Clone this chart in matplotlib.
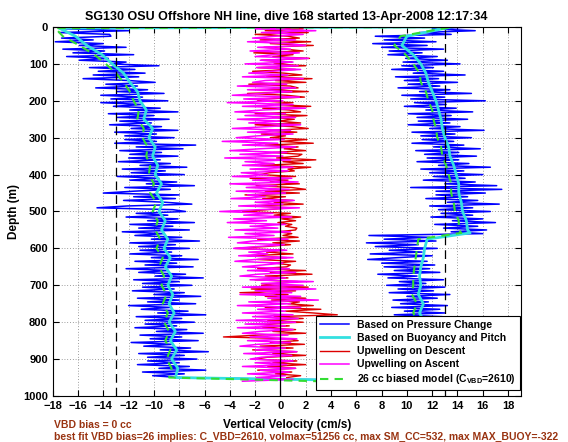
import numpy as np
import matplotlib
matplotlib.use("Agg")
import matplotlib.pyplot as plt

plt.rcParams['font.family'] = ['Liberation Sans', 'DejaVu Sans']
plt.rcParams['font.weight'] = 'bold'
plt.rcParams['mathtext.fontset'] = 'custom'
plt.rcParams['mathtext.rm'] = 'Liberation Sans:bold'
plt.rcParams['mathtext.it'] = 'Liberation Sans:bold'
plt.rcParams['mathtext.bf'] = 'Liberation Sans:bold'

# vertical velocity from pressure change (cm/s), every 5 m from the surface
w_press_desc = [-6.0, -17.0, -12.0, -17.5, -13.5,
                -13.4, -17.3, -14.8, -17.8, -14.0,
                -15.9, -12.2, -17.2, -13.9, -16.4,
                -11.6, -16.9, -13.6, -15.9, -12.2,
                -13.4, -9.6, -15.1, -11.5, -14.4, -10.7, -14.8, -11.2, -15.6, -12.0,
                -9.9, -13.8, -11.3, -14.6, -10.5, -12.9, -9.2, -14.2, -10.9, -13.4,
                -8.9, -14.2, -10.9, -13.2, -9.5, -11.9, -8.1, -13.6, -10.0, -12.9,
                -8.8, -12.7, -10.2, -13.5, -9.4, -11.8, -8.1, -13.1, -9.8, -12.3,
                -8.4, -12.3, -9.8, -13.1, -6.7, -11.4, -7.7, -12.7, -9.4, -11.9,
                -8.1, -12.0, -9.5, -12.8, -8.7, -11.1, -7.4, -12.5, -9.1, -11.8,
                -7.6, -12.9, -9.6, -11.9, -8.2, -10.6, -6.8, -12.3, -8.7, -11.6,
                -14.0, -8.0, -11.6, -8.3, -12.4, -9.1, -7.0, -12.1, -14.5, -8.5,
                -7.5, -11.4, -8.9, -12.2, -8.1, -10.5, -6.8, -11.9, -8.5, -11.2,
                -7.2, -12.5, -9.2, -11.5, -7.8, -10.2, -6.4, -11.9, -8.3, -11.2,
                -7.2, -11.1, -8.6, -11.9, -7.8, -10.2, -6.5, -11.5, -8.2, -10.7,
                -6.9, -12.2, -8.9, -11.2, -7.5, -9.9, -6.1, -11.6, -8.0, -10.9,
                -7.0, -10.9, -8.4, -11.7, -7.6, -10.0, -6.3, -11.3, -8.0, -10.5,
                -6.7, -12.0, -8.7, -11.0, -7.3, -9.7, -5.9, -11.4, -7.8, -10.7,
                -6.8, -10.7, -8.2, -11.5, -7.4, -9.8, -6.1, -11.1, -7.8, -10.3,
                -6.5, -11.8, -8.5, -10.8, -7.1, -9.5, -5.7, -11.2, -7.6, -10.5,
                -6.6, -10.5, -8.0, -11.3, -7.2, -9.6, -5.9, -10.9, -7.6, -10.1,
                -8.0]
w_press_asc = [15.0, 12.0, 15.4, 11.0, 13.5,
               7.5, 11.4, 8.2, 12.3, 7.3,
               11.6, 8.0, 12.9, 8.6, 11.2,
               8.5, 12.4, 9.9, 13.2, 9.7,
               14.2, 9.6, 12.1, 8.8, 12.9, 10.5, 14.6, 9.1, 12.5, 9.8,
               14.0, 10.1, 12.6, 9.3, 13.4, 11.0, 15.1, 9.6, 13.0, 10.3,
               16.2, 10.6, 13.1, 9.8, 13.9, 11.5, 15.2, 10.1, 13.5, 10.8,
               14.8, 10.9, 13.4, 10.1, 14.2, 11.8, 16.1, 10.4, 13.8, 11.1,
               15.1, 11.2, 13.7, 10.4, 14.5, 12.1, 15.8, 10.7, 14.1, 11.4,
               15.5, 11.6, 14.1, 10.8, 14.9, 12.5, 16.6, 11.1, 14.5, 11.8,
               16.0, 12.1, 14.6, 11.3, 15.4, 13.0, 17.1, 10.3, 17.5, 12.3,
               16.2, 12.3, 14.8, 11.5, 15.6, 13.2, 17.3, 11.8, 15.2, 12.5,
               16.6, 12.7, 15.2, 11.9, 16.0, 13.6, 17.0, 12.2, 15.6, 12.9,
               16.3, 13.5, 16.0,
               7.0, 11.8, 8.2, 12.3, 6.8, 10.9, 7.5,
               12.4, 8.6, 11.2, 7.1, 12.0, 9.3, 6.9, 11.6, 8.0, 12.2,
               8.2, 11.8, 9.0, 12.6, 7.7, 10.8, 8.5, 12.9, 9.4, 11.5,
               8.4, 13.0, 9.3, 12.1, 8.6, 13.4, 10.0, 12.4, 8.9, 11.7,
               9.5, 13.2, 8.8, 12.6, 9.8, 13.0,
               9.0, 12.8, 9.6, 12.2, 9.2, 13.0, 9.8, 12.4, 9.4, 12.9,
               9.9, 12.3, 9.3, 12.8, 10.0, 12.5, 9.5, 13.0, 9.8, 12.2,
               9.6, 12.7, 10.1, 12.4, 9.7, 12.9, 10.0, 12.3, 9.5, 12.6,
               10.2, 12.0, 9.8, 12.4, 10.3, 11.8, 11.0]

# upwelling estimates, every 5 m
w_up_desc = [-2.5, 1.8, -1.2, 2.2, -2.0, 0.6, 1.5, -1.6, 2.4, -0.8,
             2.6, -1.3, 0.4, 1.8, -2.1, 1.0, -0.6, 2.3, -1.5, 0.9,
             -0.5, 2.0, -1.8, 1.2, -2.2, 0.3, 1.7, -1.1, 2.5, -0.4,
             2.0, -2.5, 0.8, 1.4, -1.0, 2.2, -2.6, 0.5, 1.9, -1.3,
             -1.8, 1.0, -0.4, 2.4, -1.4, 0.7, 1.6, -2.0, 2.1, -0.6,
             1.1, -0.2, 1.6, -2.0, 0.9, 2.2, -0.8, 1.3, -1.5, 0.4,
             -0.8, 2.1, 0.0, 2.6, -1.2, 1.4, 0.3, 2.0, -0.6, 1.7,
             1.4, -0.3, 2.8, 0.2, 1.8, -1.6, 2.4, 0.6, 1.1, -0.9,
             -1.6, 1.2, -2.4, 0.6, -0.8, 1.5, -1.9, 0.9, 2.0, -1.2,
             1.5, -2.8, 0.4, -1.4, 1.0, -0.5, 1.8, -2.2, 0.7, -1.0,
             -3.0, 0.8, -0.5, 1.6, 0.1, 1.2, -0.2, 0.9, 0.4, 1.3,
             1.2, -0.2, 0.9, 0.2, 1.4, -1.8, 1.5, -0.6, 0.8, -1.2,
             -3.6, 0.3, -1.1, 1.0, -2.6, 0.5, -1.8, 1.2, -0.4, 0.8,
             0.5, -1.8, 2.0, -0.8, 2.5, -1.2, 0.6, -2.0, 1.4, -0.3,
             -1.5, 2.2, -2.3, 1.2, -3.2, 0.6, -1.2, 2.0, -0.7, 1.5,
             0.6, 2.6, -1.2, 3.2, 0.4, 2.6, 4.5, -0.5, 1.8, -1.0,
             1.8, -2.0, 0.7, -1.4, 1.2, -0.6, 2.0, -1.8, -4.5, 0.8,
             1.4, -0.8, 1.9, -1.6, 1.0, -2.2, 1.3, -0.6, 2.0, -1.0,
             -2.2, 1.3, -0.6, 2.0, -1.0, 1.2, -1.8, 0.9, -0.4, 1.6, 0.5]
w_up_asc = [2.5, -2.0, 2.8, -1.5, 1.8, -0.4, -2.2, 1.2, -2.6, 0.6,
            2.0, -1.8, 0.8, -2.4, 1.5, -0.5, -2.0, 2.2, -1.6, 1.0,
            -2.8, 1.4, -1.9, 1.6, -0.7, -2.5, 0.6, -3.0, 1.8, -1.2,
            -2.2, 0.5, -3.4, 1.2, -2.6, 0.9, -1.5, -3.8, 1.5, -2.9,
            0.2, -4.2, 1.0, -3.0, 2.0, -1.4, -3.6, 0.4, -2.8, 1.2,
            -3.4, 0.0, -2.5, 1.6, -1.0, -3.8, 0.8, -2.6, 1.0, -1.8,
            -3.5, 0.3, -4.6, -0.2, -3.0, 1.2, -1.6, -4.0, 0.5, -3.2,
            0.2, -4.4, 0.8, -2.8, -0.5, -3.0, 1.0, -2.4, 0.6, -3.1,
            -1.0, -3.8, 0.9, -2.2, 1.4, -4.0, -0.3, -2.7, 0.7, -3.5,
            0.4, -2.6, -1.2, -3.9, 1.1, -2.0, 0.2, -3.3, 1.5, -1.7,
            -4.8, -0.6, -2.9, 0.9, -3.7, -1.1, -4.2, 0.4, -2.4, -0.2,
            -3.6, 0.8, -2.8, -0.5, -4.1, 0.6, -2.2, -3.4, 0.3, -1.8,
            -3.7, 0.5, -2.5, -1.0, -3.3, 1.0, -2.0, -3.6, 0.2, -1.4,
            -3.0, 0.7, -2.6, 1.2, -1.8, -3.2, 0.4, -2.4, 2.6, -1.5,
            1.8, -3.0, 2.8, -2.0, 0.9, -3.2, 1.6, -1.0, 3.0, -2.5,
            0.8, -3.4, 1.6, -1.8, 0.4, -3.0, 1.0, -2.2, 1.4, -3.5,
            1.2, -2.8, 0.4, -3.4, 1.0, -1.6, -3.0, 0.6, -2.4, 1.3,
            -2.6, 0.8, -1.8, -3.2, 0.4, -2.0, 1.3, -2.9, 0.9, -1.5,
            -2.4, 1.0, -2.0, 0.5, -3.0, 1.2, -1.6, 0.7, -2.6, 0.4, -1.9, 1.0, -3.0]

# buoyancy/pitch estimate and biased model
depth_mod_desc = [0, 3, 25, 50, 75, 100, 125, 150, 175, 200, 225, 250, 275, 300,
                  325, 350, 375, 400, 425, 450, 475, 500, 525, 550, 575, 600, 625,
                  650, 675, 700, 725, 750, 775, 800, 825, 850, 875, 900, 925, 950]
w_buoy_desc = [13.0, -17.5, -16.2, -15.3, -14.1, -13.3, -12.4, -11.9, -11.3, -11.1,
               -10.6, -10.8, -10.1, -10.4, -9.9, -10.1, -9.7, -9.9, -9.4, -9.8,
               -9.3, -9.6, -9.1, -9.4, -8.9, -9.2, -8.7, -9.1, -8.6, -8.9,
               -8.5, -8.8, -8.4, -8.8, -8.3, -8.7, -8.2, -8.6, -8.1, -8.3]
w_model_desc = [13.0, -17.8, -17.2, -15.9, -14.7, -13.8, -13.0, -12.4, -11.9, -11.6,
                -11.2, -11.3, -10.8, -10.9, -10.5, -10.6, -10.3, -10.4, -10.0, -10.3,
                -9.8, -10.1, -9.7, -9.9, -9.5, -9.8, -9.3, -9.6, -9.2, -9.4,
                -9.0, -9.3, -8.9, -9.2, -8.8, -9.1, -8.7, -9.0, -8.6, -8.8]
depth_mod_asc = [0, 25, 50, 75, 100, 125, 150, 175, 200, 225, 250, 275, 300, 325,
                 350, 375, 400, 425, 450, 475, 500, 525, 550, 558, 575, 600, 625,
                 650, 675, 700, 725, 750, 775, 800, 825, 850, 875, 900, 925, 950, 960]
w_buoy_asc = [13.5, 10.0, 9.6, 10.5, 11.1, 11.5, 11.7, 12.0, 12.3, 12.5,
              12.7, 12.8, 13.0, 13.3, 13.4, 13.7, 13.9, 14.1, 14.1, 14.3,
              14.4, 14.7, 14.8, 15.0, 11.6, 11.4, 11.3, 11.1, 11.0, 11.1,
              10.9, 11.3, 11.0, 11.4, 11.1, 11.5, 11.2, 11.6, 11.3, 11.5, 10.0]
w_model_asc = [13.5, 9.5, 9.0, 9.9, 10.5, 11.0, 11.1, 11.5, 11.7, 12.0,
               12.1, 12.3, 12.4, 12.7, 12.8, 13.1, 13.3, 13.5, 13.5, 13.7,
               13.8, 14.1, 14.1, 14.3, 10.9, 10.8, 10.7, 10.6, 10.5, 10.5,
               10.4, 10.8, 10.5, 10.9, 10.6, 11.0, 10.7, 11.1, 10.8, 11.0, 3.0]

xticks = np.arange(-18, 19, 2)
yticks = np.arange(0, 1001, 100)
brown = '#993311'

depth_desc = np.arange(len(w_press_desc)) * 5
depth_asc = np.arange(len(w_press_asc)) * 5
depth_up_desc = np.arange(len(w_up_desc)) * 5
depth_up_asc = np.arange(len(w_up_asc)) * 5

fig = plt.figure(figsize=(5.68, 4.42), dpi=100)
ax = fig.add_axes([0.0928, 0.1041, 0.824, 0.8348])

# whole dive: descent then ascent back up
d_press = np.concatenate([depth_desc, depth_asc[::-1]])
w_press = np.concatenate([w_press_desc, w_press_asc[::-1]])
d_mod = np.concatenate([depth_mod_desc, depth_mod_asc[::-1]])
w_buoy = np.concatenate([w_buoy_desc, w_buoy_asc[::-1]])
w_model = np.concatenate([w_model_desc, w_model_asc[::-1]])

ax.plot(w_press, d_press, color='#0000ff', lw=1.1, label='Based on Pressure Change')
ax.plot(w_buoy, d_mod, color='#33e0e0', lw=2.0, label='Based on Buoyancy and Pitch')
ax.plot(w_up_desc, depth_up_desc, color='#dd0000', lw=1.0, label='Upwelling on Descent')
ax.plot(w_up_asc[::-1], depth_up_asc[::-1], color='#ff00ff', lw=1.1, label='Upwelling on Ascent')
ax.plot(w_model, d_mod, color='#33dd33', lw=1.5, ls='--', dashes=(4, 3),
        label='26 cc biased model (C$_{\\rm VBD}$=2610)')

ax.axvline(0, color='black', lw=0.9, zorder=5)
ax.axvline(-13, color='black', lw=0.9, ls='--', dashes=(7, 4), zorder=5)
ax.axvline(13, color='black', lw=0.9, ls='--', dashes=(7, 4), zorder=5)

ax.set_xlim(-18, 19)
ax.set_ylim(1000, 0)
ax.set_xticks(xticks)
ax.set_yticks(yticks)
ax.tick_params(direction='in', top=True, right=True, length=4, labelsize=8)
for lab in ax.get_xticklabels() + ax.get_yticklabels():
    lab.set_fontweight('bold')
ax.grid(True, color='#444444', lw=0.5, ls=(0, (1, 3)))

ax.set_title('SG130 OSU Offshore NH line, dive 168 started 13-Apr-2008 12:17:34',
             fontsize=9, fontweight='bold', pad=5)
ax.set_xlabel('Vertical Velocity (cm/s)', fontsize=8.5, fontweight='bold', labelpad=6)
ax.set_ylabel('Depth (m)', fontsize=8.5, fontweight='bold', labelpad=2)

leg = ax.legend(loc='lower right', bbox_to_anchor=(0.998, 0.016), borderaxespad=0,
                fontsize=7.5, framealpha=1, fancybox=False, edgecolor='black',
                handlelength=2.8, labelspacing=0.3, borderpad=0.35)
leg.get_frame().set_linewidth(0.8)
leg.set_zorder(10)

fig.text(54 / 568, 1 - 425 / 442, 'VBD bias = 0 cc', color=brown, fontsize=7.5,
         fontweight='bold', va='center')
fig.text(54 / 568, 1 - 437 / 442,
         'best fit VBD bias=26 implies: C_VBD=2610, volmax=51256 cc, max SM_CC=532, max MAX_BUOY=-322',
         color=brown, fontsize=7.5, fontweight='bold', va='center')

fig.savefig('out.png', dpi=100)
